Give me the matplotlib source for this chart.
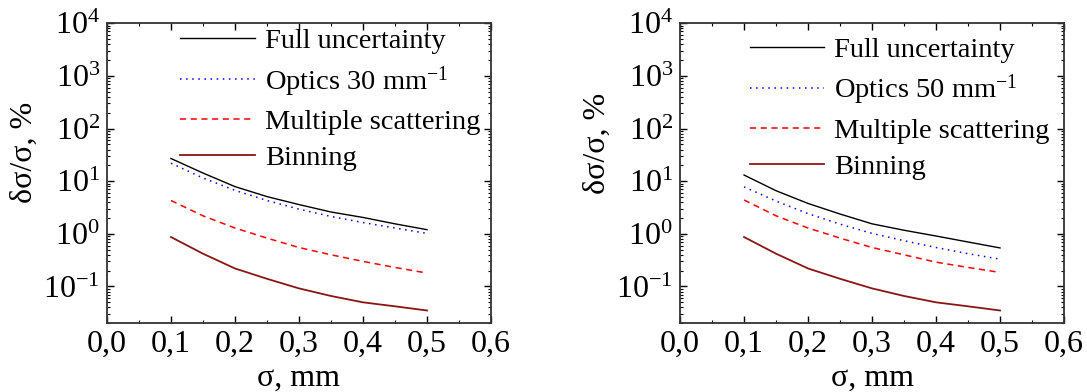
import matplotlib
matplotlib.use('Agg')
import matplotlib.pyplot as plt
from matplotlib.ticker import MultipleLocator, FuncFormatter, LogLocator

plt.rcParams['font.family'] = ['Liberation Serif', 'DejaVu Serif']
plt.rcParams['mathtext.fontset'] = 'custom'
plt.rcParams['mathtext.rm'] = 'Liberation Serif'
plt.rcParams['mathtext.it'] = 'Liberation Serif:italic'

# sigma, mm
sigma = [0.1, 0.15, 0.2, 0.25, 0.3, 0.35, 0.4, 0.45, 0.5]

# left panel (optics 30 mm^-1)
full_l = [27, 14.3, 7.9, 5.1, 3.6, 2.6, 2.05, 1.55, 1.2]
optics_l = [22, 11.5, 6.7, 4.3, 2.95, 2.14, 1.64, 1.29, 1.02]
ms_l = [4.3, 2.2, 1.29, 0.83, 0.55, 0.40, 0.30, 0.23, 0.18]
bin_l = [0.87, 0.42, 0.22, 0.14, 0.092, 0.066, 0.050, 0.042, 0.035]

# right panel (optics 50 mm^-1)
full_r = [13.1, 6.6, 3.78, 2.38, 1.55, 1.17, 0.91, 0.70, 0.54]
optics_r = [7.8, 4.2, 2.42, 1.53, 1.02, 0.74, 0.55, 0.42, 0.33]
ms_r = [4.4, 2.2, 1.29, 0.83, 0.55, 0.40, 0.29, 0.23, 0.185]
bin_r = [0.87, 0.42, 0.22, 0.14, 0.092, 0.066, 0.050, 0.042, 0.035]

panels = [
    ([0.0984, 0.1753, 0.3533, 0.7653], full_l, optics_l, ms_l, bin_l, 'Optics 30 mm$^{-1}$', (0.19, 0.984), 0.57),
    ([0.6256, 0.1753, 0.3533, 0.7653], full_r, optics_r, ms_r, bin_r, 'Optics 50 mm$^{-1}$', (0.181, 0.955), 0.60),
]

fig = plt.figure(figsize=(10.87, 3.92), dpi=100)
fs = 23
lfs = 20.5

for rect, full, opt, ms, bn, optlabel, anchor, ylab_y in panels:
    ax = fig.add_axes(rect)
    ax.plot(sigma, full, color='black', lw=1.0, label='Full uncertainty')
    ax.plot(sigma, opt, color='blue', lw=1.1, ls=(0, (1, 3)), label=optlabel)
    ax.plot(sigma, ms, color='red', lw=1.1, ls=(0, (4, 3)), label='Multiple scattering')
    ax.plot(sigma, bn, color='#8b1414', lw=1.3, label='Binning')
    ax.set_yscale('log')
    ax.set_xlim(0.0, 0.6)
    ax.set_ylim(0.02, 1e4)
    ax.xaxis.set_major_locator(MultipleLocator(0.1))
    ax.xaxis.set_minor_locator(MultipleLocator(0.05))
    ax.xaxis.set_major_formatter(FuncFormatter(lambda v, p: f"{v:.1f}".replace('.', ',')))
    ax.yaxis.set_major_locator(LogLocator(base=10, numticks=10))
    ax.yaxis.set_minor_locator(LogLocator(base=10, subs=range(2, 10), numticks=20))
    ax.tick_params(which='both', direction='in', top=True, right=True, labelsize=fs)
    ax.tick_params(axis='x', which='major', pad=5)
    ax.tick_params(axis='y', which='major', pad=5)
    ax.tick_params(which='major', length=5, width=1.0)
    ax.tick_params(which='minor', length=2.5, width=0.8)
    for s in ax.spines.values():
        s.set_linewidth(1.3)
        s.set_color('#333333')
    ax.set_xlabel('σ, mm', fontsize=fs, labelpad=3)
    ax.set_ylabel('δσ/σ, %', fontsize=fs)
    ax.yaxis.set_label_coords(-0.178, ylab_y)
    ax.legend(loc='upper left', bbox_to_anchor=anchor, frameon=False,
              fontsize=lfs, handlelength=2.63, handletextpad=0.35,
              labelspacing=0.36, borderpad=0, borderaxespad=0)

fig.savefig('out.png', dpi=100)
